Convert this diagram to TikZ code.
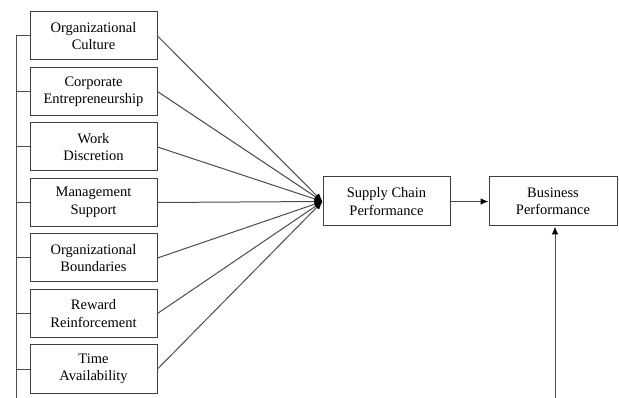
\documentclass[tikz,border=0pt]{standalone}
\usepackage{fontspec}
\setmainfont{LiberationSerif}[Extension=.ttf,UprightFont=*-Regular,BoldFont=*-Bold]
\usetikzlibrary{arrows.meta}
\begin{document}
\begin{tikzpicture}[x=1pt,y=-1pt,
  box/.style={draw=black!75,line width=1pt,fill=white,minimum width=127pt,minimum height=48pt,inner sep=1pt,align=center,font=\fontsize{14.5}{17.5}\selectfont},
  conn/.style={draw=black!70,line width=1pt},
  arr/.style={conn,-{Latex[length=8pt,width=6.5pt,color=black]}}]
\useasboundingbox (0,0) rectangle (619,398);
\node[box] (b1) at (93.5,36) {Organizational\\Culture};
\node[box] (b2) at (93.5,91.5) {Corporate\\Entrepreneurship};
\node[box] (b3) at (93.5,147) {Work\\Discretion};
\node[box] (b4) at (93.5,202.5) {Management\\Support};
\node[box] (b5) at (93.5,258) {Organizational\\Boundaries};
\node[box] (b6) at (93.5,313.5) {Reward\\Reinforcement};
\node[box] (b7) at (93.5,369) {Time\\Availability};
\node[box,minimum height=49pt] (sc) at (386.5,201.5) {Supply Chain\\Performance};
\node[box,minimum width=128pt,minimum height=49pt] (bp) at (553,201.5) {Business\\Performance};
\coordinate (lbot) at (16,398);
\coordinate (rbot) at (555,398);
\draw[conn] (b1.west) -| (lbot);
\foreach \i in {2,...,7} {\draw[conn] (b\i.west) -- (b\i.west -| lbot);}
\foreach \i in {1,...,7} {\draw[arr] (b\i.east) -- (sc.west);}
\draw[arr] (sc.east) -- (bp.west);
\draw[arr] (rbot) -- (rbot |- bp.south);
\end{tikzpicture}
\end{document}
